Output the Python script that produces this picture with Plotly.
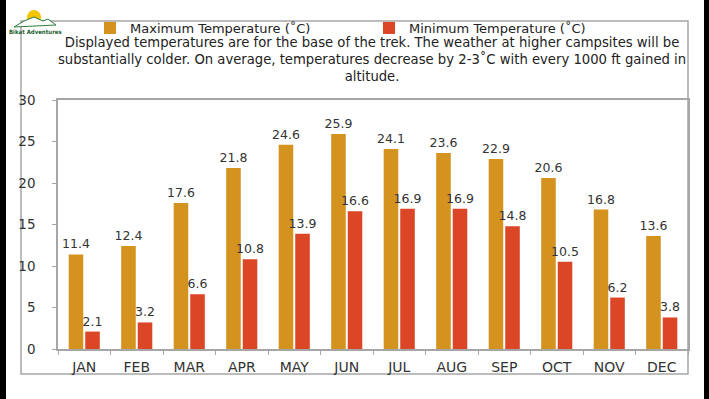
import plotly.graph_objects as go

months = ["JAN", "FEB", "MAR", "APR", "MAY", "JUN", "JUL", "AUG", "SEP", "OCT", "NOV", "DEC"]
max_temp = [11.4, 12.4, 17.6, 21.8, 24.6, 25.9, 24.1, 23.6, 22.9, 20.6, 16.8, 13.6]
min_temp = [2.1, 3.2, 6.6, 10.8, 13.9, 16.6, 16.9, 16.9, 14.8, 10.5, 6.2, 3.8]
y_ticks = [0, 5, 10, 15, 20, 25, 30]
max_name = "Maximum Temperature (˚C)"
min_name = "Minimum Temperature (˚C)"
note = ("Displayed temperatures are for the base of the trek. The weather at higher campsites will be<br>"
        "substantially colder. On average, temperatures decrease by 2-3˚C with every 1000 ft gained in<br>"
        "altitude.")
logo_text = "Bikat Adventures"

W, H = 709, 399
L, R, T, B = 58, 688, 100, 349
FONT = "DejaVu Sans"
TXT = "#333333"
AX = "#a6a6a6"


def px(x):
    return (x - L) / (R - L)


def py(y):
    return (B - y) / (B - T)


fig = go.Figure()
fig.add_trace(go.Bar(
    x=months, y=max_temp, name=max_name,
    marker=dict(color="#D4921F", line=dict(width=0)),
    text=[f"{v:.1f}" for v in max_temp], textposition="outside",
    textfont=dict(family=FONT, size=12.5, color=TXT), cliponaxis=False,
))
fig.add_trace(go.Bar(
    x=months, y=min_temp, name=min_name,
    marker=dict(color="#DA4626", line=dict(width=0)),
    text=[f"{v:.1f}" for v in min_temp], textposition="outside",
    textfont=dict(family=FONT, size=12.5, color=TXT), cliponaxis=False,
))

shapes = [
    # outer frame
    dict(type="rect", xref="paper", yref="paper", x0=px(21), x1=px(688), y0=py(374), y1=py(21),
         line=dict(color=AX, width=1.5), fillcolor="rgba(0,0,0,0)", layer="below"),
    # black side borders
    dict(type="rect", xref="paper", yref="paper", x0=px(-5), x1=px(6), y0=py(410), y1=py(-10),
         line=dict(width=0), fillcolor="black", layer="above"),
    dict(type="rect", xref="paper", yref="paper", x0=px(704), x1=px(715), y0=py(410), y1=py(-10),
         line=dict(width=0), fillcolor="black", layer="above"),
    # logo sun
    dict(type="circle", xref="paper", yref="paper", x0=px(27), x1=px(41), y0=py(25), y1=py(10),
         line=dict(width=0), fillcolor="#F4C400", layer="above"),
    dict(type="path", xref="paper", yref="paper",
         path=f"M{px(14)},{py(27)} L{px(24)},{py(21)} L{px(34)},{py(17)} L{px(43)},{py(21)} "
              f"L{px(48)},{py(19)} L{px(56)},{py(25)} L{px(14)},{py(27)} Z",
         line=dict(color="#2E7D3A", width=1), fillcolor="white", layer="above"),
]

fig.add_annotation(text=note, xref="paper", yref="paper", x=px(372), y=py(59.5),
                   xanchor="center", yanchor="middle", showarrow=False, align="center",
                   font=dict(family=FONT, size=13.2, color="#222222"))
fig.add_annotation(text=f"<b>{logo_text}</b>", xref="paper", yref="paper", x=px(35), y=py(31),
                   xanchor="center", yanchor="middle", showarrow=False,
                   font=dict(family="DejaVu Sans Condensed", size=6, color="#1F5E2E"))

fig.update_layout(
    width=W, height=H,
    margin=dict(l=L, r=W - R, t=T, b=H - B, pad=0),
    paper_bgcolor="white", plot_bgcolor="white",
    barmode="group", bargap=0.37, bargroupgap=0.12,
    font=dict(family=FONT, size=13, color=TXT),
    shapes=shapes,
    showlegend=True,
    legend=dict(orientation="h", x=px(90), y=py(28), xanchor="left", yanchor="middle",
                entrywidth=234, entrywidthmode="pixels",
                font=dict(family=FONT, size=13, color="#222222"),
                bgcolor="rgba(0,0,0,0)", itemclick=False),
    xaxis=dict(showline=True, linecolor=AX, linewidth=1.5, mirror=True,
               ticks="outside", tickson="boundaries", ticklen=4, tickcolor=AX,
               ticklabelstandoff=4,
               showgrid=False, tickfont=dict(family=FONT, size=14, color=TXT), fixedrange=True),
    yaxis=dict(range=[0, 30], tickvals=y_ticks, showline=True, linecolor=AX, linewidth=1.5, mirror=True,
               ticks="outside", ticklen=4, tickcolor=AX, showgrid=False, zeroline=False,
               ticklabelstandoff=14,
               tickfont=dict(family=FONT, size=13.5, color=TXT), fixedrange=True),
)
fig.update_traces(constraintext="none", selector=dict(type="bar"))

fig.write_html("out.html", config={"displayModeBar": False},
               post_script="document.body.style.margin='0px';")
